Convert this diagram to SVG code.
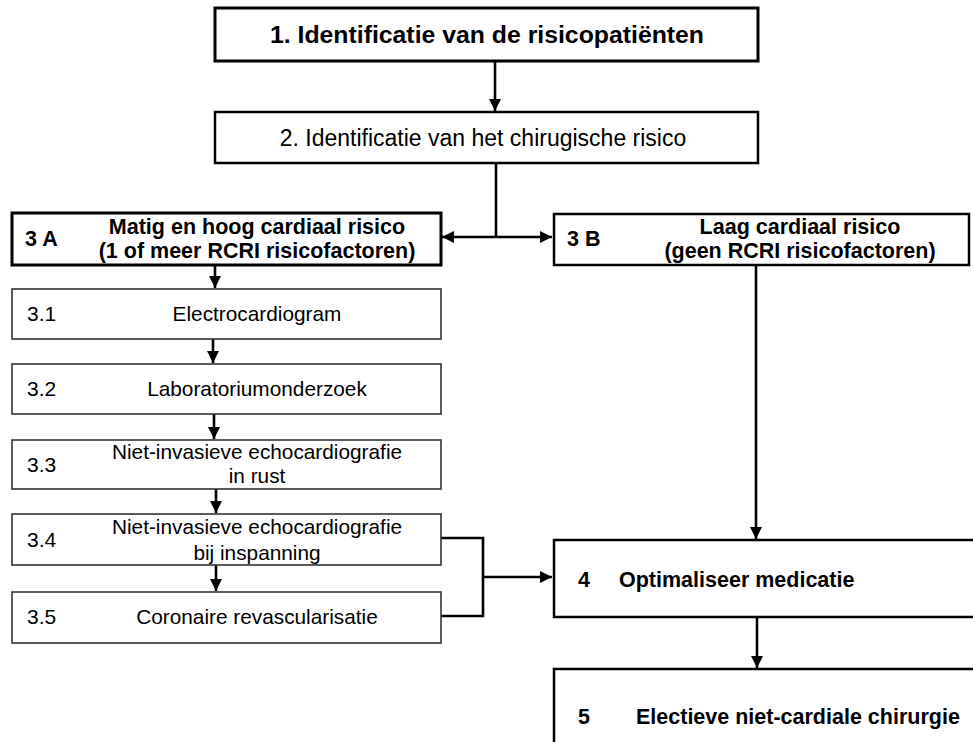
<svg xmlns="http://www.w3.org/2000/svg" width="973" height="742" viewBox="0 0 973 742">
<style>
text{font-family:"Liberation Sans",Arial,sans-serif;fill:#000}
.b{font-weight:bold}
.thick{fill:#fff;stroke:#000;stroke-width:3}
.med{fill:#fff;stroke:#000;stroke-width:2.5}
.thin{fill:#fff;stroke:#333;stroke-width:1.6}
.c{fill:none;stroke:#000;stroke-width:2.6}
.mid{text-anchor:middle}
</style>
<defs>
<marker id="ah" viewBox="0 0 10 10" refX="10" refY="5" markerWidth="4.6" markerHeight="4.6" markerUnits="strokeWidth" orient="auto">
<path d="M0,0L10,5L0,10z" fill="#000"/>
</marker>
</defs>
<rect width="973" height="742" fill="#fff"/>
<g id="connectors">
<path class="c" d="M495,61V111" marker-end="url(#ah)"/>
<path class="c" d="M496,163V237"/>
<path class="c" d="M496,237H442" marker-end="url(#ah)"/>
<path class="c" d="M496,237H552" marker-end="url(#ah)"/>
<path class="c" d="M215,265V288" marker-end="url(#ah)"/>
<path class="c" d="M213,339V363" marker-end="url(#ah)"/>
<path class="c" d="M214,414V439" marker-end="url(#ah)"/>
<path class="c" d="M216,489V513" marker-end="url(#ah)"/>
<path class="c" d="M216,565V591" marker-end="url(#ah)"/>
<path class="c" d="M440,538H483V616H441"/>
<path class="c" d="M483,577H552" marker-end="url(#ah)"/>
<path class="c" d="M756,265V539" marker-end="url(#ah)"/>
<path class="c" d="M757,617V668" marker-end="url(#ah)"/>
</g>
<g id="n1">
<rect class="thick" x="215" y="8" width="543" height="53"/>
<text class="b mid" x="487" y="43" font-size="24.8">1. Identificatie van de risicopatiënten</text>
</g>
<g id="n2">
<rect class="med" x="215" y="112" width="543" height="51"/>
<text class="mid" x="483" y="146" font-size="23">2. Identificatie van het chirugische risico</text>
</g>
<g id="n3a">
<rect class="thick" x="12" y="213" width="429" height="52"/>
<text class="b" x="25" y="246" font-size="21.5">3 A</text>
<text class="b mid" x="257" y="234" font-size="21.5">Matig en hoog cardiaal risico</text>
<text class="b mid" x="257" y="258" font-size="21.5">(1 of meer RCRI risicofactoren)</text>
</g>
<g id="n3b">
<rect class="med" x="554" y="214" width="415" height="51"/>
<text class="b" x="567" y="246" font-size="21.5">3 B</text>
<text class="b mid" x="800" y="234" font-size="21.5">Laag cardiaal risico</text>
<text class="b mid" x="800" y="258" font-size="21.5">(geen RCRI risicofactoren)</text>
</g>
<g id="n31">
<rect class="thin" x="12" y="289" width="429" height="50"/>
<text x="27" y="321" font-size="21">3.1</text>
<text class="mid" x="257" y="321" font-size="20.8">Electrocardiogram</text>
</g>
<g id="n32">
<rect class="thin" x="12" y="364" width="429" height="50"/>
<text x="27" y="396" font-size="21">3.2</text>
<text class="mid" x="257" y="396" font-size="20.8">Laboratoriumonderzoek</text>
</g>
<g id="n33">
<rect class="thin" x="12" y="440" width="429" height="49"/>
<text x="27" y="472" font-size="21">3.3</text>
<text class="mid" x="257" y="459" font-size="20.8">Niet-invasieve echocardiografie</text>
<text class="mid" x="257" y="483" font-size="20.8">in rust</text>
</g>
<g id="n34">
<rect class="thin" x="12" y="514" width="429" height="51"/>
<text x="27" y="547" font-size="21">3.4</text>
<text class="mid" x="257" y="534" font-size="20.8">Niet-invasieve echocardiografie</text>
<text class="mid" x="257" y="560" font-size="20.8">bij inspanning</text>
</g>
<g id="n35">
<rect class="thin" x="12" y="592" width="429" height="51"/>
<text x="27" y="624" font-size="21">3.5</text>
<text class="mid" x="257" y="624" font-size="20.8">Coronaire revascularisatie</text>
</g>
<g id="n4">
<rect class="med" x="554" y="540" width="430" height="77"/>
<text class="b" x="578" y="587" font-size="21.5">4</text>
<text class="b" x="619" y="587" font-size="21.5">Optimaliseer medicatie</text>
</g>
<g id="n5">
<rect class="med" x="554" y="669" width="430" height="90"/>
<text class="b" x="578" y="724" font-size="21.5">5</text>
<text class="b" x="636" y="724" font-size="21.5">Electieve niet-cardiale chirurgie</text>
</g>
</svg>
